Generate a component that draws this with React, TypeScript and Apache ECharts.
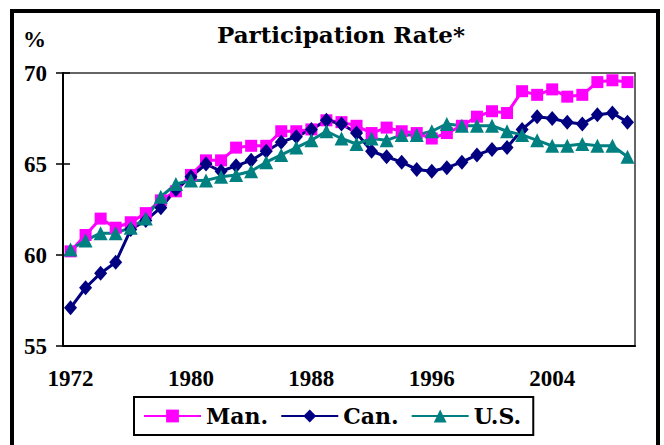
import React, { useEffect, useRef } from "react";
import * as echarts from "echarts";

const years = [
  "1972", "1973", "1974", "1975", "1976", "1977", "1978", "1979", "1980", "1981",
  "1982", "1983", "1984", "1985", "1986", "1987", "1988", "1989", "1990", "1991",
  "1992", "1993", "1994", "1995", "1996", "1997", "1998", "1999", "2000", "2001",
  "2002", "2003", "2004", "2005", "2006", "2007", "2008", "2009",
];

const manValues = [
  60.2, 61.1, 62.0, 61.5, 61.8, 62.3, 63.0, 63.5, 64.4, 65.2,
  65.2, 65.9, 66.0, 66.0, 66.8, 66.8, 66.9, 67.4, 67.3, 67.1,
  66.7, 67.0, 66.8, 66.7, 66.4, 66.7, 67.1, 67.6, 67.9, 67.8,
  69.0, 68.8, 69.1, 68.7, 68.8, 69.5, 69.6, 69.5,
];

const canValues = [
  57.1, 58.2, 59.0, 59.6, 61.4, 61.9, 62.6, 63.6, 64.3, 65.0,
  64.6, 64.9, 65.2, 65.7, 66.2, 66.5, 66.9, 67.4, 67.2, 66.7,
  65.7, 65.4, 65.1, 64.7, 64.6, 64.8, 65.1, 65.5, 65.8, 65.9,
  66.9, 67.6, 67.5, 67.3, 67.2, 67.7, 67.8, 67.3,
];

const usValues = [
  60.3, 60.8, 61.2, 61.2, 61.5, 62.0, 63.2, 63.9, 64.1, 64.1,
  64.3, 64.4, 64.6, 65.1, 65.5, 65.9, 66.3, 66.8, 66.4, 66.1,
  66.4, 66.3, 66.6, 66.6, 66.8, 67.2, 67.1, 67.1, 67.1, 66.8,
  66.6, 66.3, 66.0, 66.0, 66.1, 66.0, 66.0, 65.4,
];

const seriesNames = ["Man.", "Can.", "U.S."];
const seriesColors = ["#FF00FF", "#000080", "#008080"];

export default function App() {
  const ref = useRef<HTMLDivElement>(null);

  useEffect(() => {
    if (!ref.current) return;
    const chart = echarts.init(ref.current, null, { renderer: "svg" });
    const numFont = {
      fontFamily: "Liberation Serif",
      fontWeight: "bold" as const,
      fontSize: 23,
      color: "#000",
    };
    const tickStyle = { color: "#000", width: 1.5 };
    const mk = (
      name: string,
      data: number[],
      color: string,
      symbol: string,
      symbolSize: number | number[]
    ) => ({
      name,
      type: "line",
      data,
      xAxisIndex: 0,
      yAxisIndex: 0,
      symbol,
      symbolSize,
      showAllSymbol: true,
      lineStyle: { color, width: 3 },
      itemStyle: { color, borderWidth: 0 },
      emphasis: { disabled: true },
    });

    chart.setOption({
      animation: false,
      backgroundColor: "#ffffff",
      grid: {
        left: 63,
        right: 29,
        top: 73,
        bottom: 99,
        show: true,
        borderColor: "#333",
        borderWidth: 1.5,
      },
      xAxis: [
        {
          type: "category",
          data: years,
          boundaryGap: true,
          axisLine: { lineStyle: { color: "#000", width: 2 } },
          axisTick: { interval: 0, length: 7, lineStyle: tickStyle },
          axisLabel: { interval: 7, margin: 21, ...numFont },
          splitLine: { show: false },
        },
        {
          type: "category",
          data: years,
          boundaryGap: true,
          position: "bottom",
          offset: 0,
          axisLine: { show: false },
          axisTick: { inside: true, interval: 0, length: 7, lineStyle: tickStyle },
          axisLabel: { show: false },
          splitLine: { show: false },
        },
      ],
      yAxis: [
        {
          type: "value",
          min: 55,
          max: 70,
          interval: 5,
          axisLine: { show: true, lineStyle: { color: "#000", width: 2 } },
          axisTick: { show: true, length: 7, lineStyle: tickStyle },
          axisLabel: { margin: 16, ...numFont },
          splitLine: { show: false },
        },
        {
          type: "value",
          min: 55,
          max: 70,
          interval: 5,
          position: "left",
          offset: 0,
          axisLine: { show: false },
          axisTick: { show: true, inside: true, length: 7, lineStyle: tickStyle },
          axisLabel: { show: false },
          splitLine: { show: false },
        },
      ],
      legend: {
        data: seriesNames,
        left: 134,
        top: 397,
        orient: "horizontal",
        itemWidth: 57,
        itemHeight: 16,
        itemGap: 12,
        borderColor: "#000",
        borderWidth: 2,
        padding: [8, 12, 8, 9],
        textStyle: {
          fontFamily: "DejaVu Serif",
          fontWeight: "bold",
          fontSize: 22,
          color: "#000",
          padding: [0, 0, 0, 0],
        },
      },
      graphic: [
        {
          type: "rect",
          shape: { x: 12, y: 11, width: 646, height: 480 },
          style: { fill: "none", stroke: "#000", lineWidth: 4 },
          silent: true,
        },
        {
          type: "text",
          x: 341,
          y: 34,
          style: {
            text: "Participation Rate*",
            fontFamily: "DejaVu Serif",
            fontWeight: "bold",
            fontSize: 23,
            fill: "#000",
            textAlign: "center",
            textVerticalAlign: "middle",
          },
        },
        {
          type: "text",
          x: 23,
          y: 39,
          style: {
            text: "%",
            fontFamily: "Liberation Serif",
            fontWeight: "bold",
            fontSize: 23,
            fill: "#000",
            textAlign: "left",
            textVerticalAlign: "middle",
          },
        },
      ],
      series: [
        mk(seriesNames[0], manValues, seriesColors[0], "rect", 12),
        mk(seriesNames[1], canValues, seriesColors[1], "diamond", [13, 15]),
        mk(seriesNames[2], usValues, seriesColors[2], "triangle", 14),
      ],
    });
    return () => chart.dispose();
  }, []);

  return (
    <div
      ref={ref}
      style={{ position: "absolute", left: 0, top: 0, width: 664, height: 445 }}
    />
  );
}
